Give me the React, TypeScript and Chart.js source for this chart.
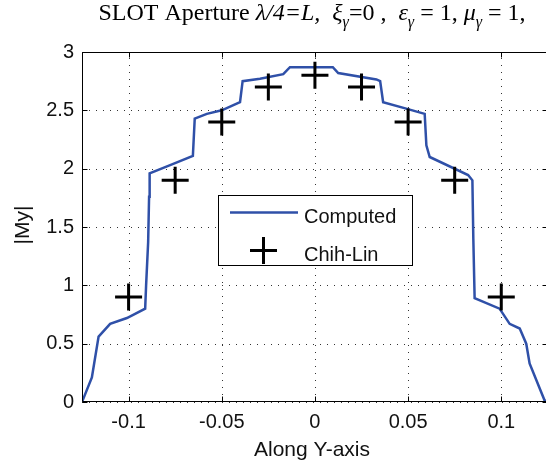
import React, { useEffect, useRef } from "react";
import { Chart, registerables } from "chart.js";

Chart.register(...registerables);

// ---- data ----
const computedX = [
  -0.125, -0.1197, -0.1161, -0.1099, -0.1009, -0.0911, -0.0906, -0.0895, -0.089, -0.0887,
  -0.0777, -0.0655, -0.0645, -0.058, -0.05, -0.0402, -0.0388, -0.0295, -0.017, -0.0134,
  0.0096, 0.0125, 0.033, 0.035, 0.0366, 0.049, 0.0589, 0.0598, 0.0616, 0.0822,
  0.0845, 0.085, 0.0857, 0.0991, 0.1045, 0.1099, 0.1134, 0.1152, 0.1232, 0.125,
];
const computedY = [
  0, 0.21, 0.56, 0.67, 0.72, 0.8, 1.0, 1.37, 1.76, 1.96,
  2.03, 2.11, 2.43, 2.47, 2.5, 2.57, 2.75, 2.77, 2.81, 2.87,
  2.87, 2.82, 2.765, 2.75, 2.57, 2.515, 2.47, 2.2, 2.1, 1.945,
  1.9, 1.4, 0.89, 0.8, 0.67, 0.63, 0.5, 0.33, 0.015, 0,
];
const chihLinX = [-0.1, -0.075, -0.05, -0.025, 0, 0.025, 0.05, 0.075, 0.1];
const chihLinY = [0.9, 1.9, 2.4, 2.7, 2.8, 2.7, 2.4, 1.9, 0.9];

const xTicks = [-0.1, -0.05, 0, 0.05, 0.1];
const xTickLabels = ["-0.1", "-0.05", "0", "0.05", "0.1"];
const yTicks = [0, 0.5, 1, 1.5, 2, 2.5, 3];
const yTickLabels = ["0", "0.5", "1", "1.5", "2", "2.5", "3"];
const seriesNames = ["Computed", "Chih-Lin"];
const xTitle = "Along Y-axis";
const yTitle = "|My|";
const titleSegments = [
  { t: "SLOT Aperture ", it: false, sub: false },
  { t: "λ/4=L,", it: true, sub: false },
  { t: "  ", it: false, sub: false },
  { t: "ξ", it: true, sub: false },
  { t: "γ", it: true, sub: true },
  { t: "=0 ,  ", it: false, sub: false },
  { t: "ε", it: true, sub: false },
  { t: "γ", it: true, sub: true },
  { t: " = 1, ", it: false, sub: false },
  { t: "μ", it: true, sub: false },
  { t: "γ", it: true, sub: true },
  { t: " = 1,", it: false, sub: false },
];

const BLUE = "#2f50a8";
const SANS = '"Liberation Sans", Arial, sans-serif';
const SERIF = '"Liberation Serif", "Times New Roman", serif';

const decoPlugin = {
  id: "deco",
  beforeDraw(chart: any) {
    const ctx = chart.ctx;
    ctx.save();
    ctx.fillStyle = "#fff";
    ctx.fillRect(0, 0, chart.width, chart.height);
    ctx.restore();
  },
  beforeDatasetsDraw(chart: any) {
    const { ctx, chartArea: a, scales } = chart;
    const xs = scales.x;
    const ys = scales.y;
    ctx.save();
    ctx.strokeStyle = "#333";
    ctx.lineWidth = 1;
    ctx.setLineDash([1, 6]);
    ctx.beginPath();
    for (const v of xTicks) {
      const px = Math.round(xs.getPixelForValue(v)) + 0.5;
      ctx.moveTo(px, a.bottom);
      ctx.lineTo(px, a.top);
    }
    for (const v of yTicks) {
      const py = Math.round(ys.getPixelForValue(v)) + 0.5;
      ctx.moveTo(a.left, py);
      ctx.lineTo(a.right, py);
    }
    ctx.stroke();
    ctx.restore();
  },
  afterDraw(chart: any) {
    const { ctx, chartArea: a, scales } = chart;
    const xs = scales.x;
    const ys = scales.y;
    ctx.save();
    ctx.strokeStyle = "#000";
    ctx.lineWidth = 1;
    ctx.setLineDash([]);
    const L = Math.round(a.left) + 0.5;
    const T = Math.round(a.top) + 0.5;
    const B = Math.round(a.bottom) - 0.5;
    const R = Math.round(a.right) + 1.5;
    ctx.beginPath();
    ctx.moveTo(R, B);
    ctx.lineTo(L, B);
    ctx.lineTo(L, T);
    ctx.lineTo(R, T);
    ctx.stroke();
    // inward ticks
    ctx.beginPath();
    for (const v of xTicks) {
      const px = Math.round(xs.getPixelForValue(v)) + 0.5;
      ctx.moveTo(px, B);
      ctx.lineTo(px, B - 5);
      ctx.moveTo(px, T);
      ctx.lineTo(px, T + 5);
    }
    for (const v of yTicks) {
      const py = Math.round(ys.getPixelForValue(v)) + 0.5;
      ctx.moveTo(L, py);
      ctx.lineTo(L + 5, py);
      ctx.moveTo(R, py);
      ctx.lineTo(R - 5, py);
    }
    ctx.stroke();

    // legend
    ctx.fillStyle = "#fff";
    ctx.fillRect(218, 195, 194, 70);
    ctx.strokeRect(218.5, 195.5, 194, 70);
    ctx.strokeStyle = BLUE;
    ctx.lineWidth = 2.5;
    ctx.beginPath();
    ctx.moveTo(230, 212.5);
    ctx.lineTo(298, 212.5);
    ctx.stroke();
    ctx.strokeStyle = "#000";
    ctx.lineWidth = 3;
    ctx.beginPath();
    ctx.moveTo(250, 250.5);
    ctx.lineTo(277, 250.5);
    ctx.moveTo(263.5, 237);
    ctx.lineTo(263.5, 264);
    ctx.stroke();
    ctx.fillStyle = "#111";
    ctx.font = `20px ${SANS}`;
    ctx.textAlign = "left";
    ctx.textBaseline = "alphabetic";
    ctx.fillText(seriesNames[0], 304, 223);
    ctx.fillText(seriesNames[1], 304, 261);

    // axis titles
    ctx.font = `21px ${SANS}`;
    ctx.textAlign = "center";
    ctx.fillText(xTitle, 312, 456);
    ctx.save();
    ctx.translate(28.5, 225);
    ctx.rotate(-Math.PI / 2);
    ctx.fillText(yTitle, 0, 0);
    ctx.restore();

    // title
    const fontFor = (s: any) =>
      `${s.it ? "italic " : ""}${s.sub ? 16 : 24}px ${SERIF}`;
    let total = 0;
    for (const s of titleSegments) {
      ctx.font = fontFor(s);
      total += ctx.measureText(s.t).width;
    }
    let cx = 312 - total / 2;
    ctx.textAlign = "left";
    ctx.fillStyle = "#000";
    for (const s of titleSegments) {
      ctx.font = fontFor(s);
      ctx.fillText(s.t, cx, s.sub ? 27 : 20);
      cx += ctx.measureText(s.t).width;
    }
    ctx.restore();
  },
};

export default function App() {
  const ref = useRef<HTMLCanvasElement | null>(null);
  useEffect(() => {
    if (!ref.current) return;
    const chart = new Chart(ref.current, {
      type: "scatter",
      data: {
        datasets: [
          {
            label: seriesNames[1],
            data: chihLinX.map((x, i) => ({ x, y: chihLinY[i] })),
            pointStyle: "cross",
            pointRadius: 13.5,
            pointHoverRadius: 13.5,
            borderColor: "#000",
            backgroundColor: "#000",
            borderWidth: 3,
            showLine: false,
            order: 0,
            clip: false as any,
          },
          {
            label: seriesNames[0],
            data: computedX.map((x, i) => ({ x, y: computedY[i] })),
            showLine: true,
            borderColor: BLUE,
            backgroundColor: BLUE,
            borderWidth: 2.5,
            pointRadius: 0,
            tension: 0,
            order: 1,
          },
        ],
      },
      options: {
        responsive: false,
        animation: false,
        devicePixelRatio: 1,
        layout: { autoPadding: false, padding: { left: 0, top: 52, right: 0, bottom: 0 } },
        plugins: {
          legend: { display: false },
          tooltip: { enabled: false },
          title: { display: false },
        },
        scales: {
          x: {
            type: "linear",
            min: -0.125,
            max: 0.124,
            afterBuildTicks: (s: any) => {
              s.ticks = xTicks.map((v) => ({ value: v }));
            },
            afterFit: (s: any) => {
              s.height = 63;
              s.paddingLeft = 0;
              s.paddingRight = 0;
            },
            ticks: {
              autoSkip: false,
              maxRotation: 0,
              padding: 8,
              color: "#111",
              font: { family: SANS, size: 20 },
              callback: (v: any) => xTickLabels[xTicks.indexOf(Number(v))] ?? "",
            },
            grid: { display: false, drawTicks: false },
            border: { display: false },
          },
          y: {
            type: "linear",
            min: 0,
            max: 3,
            afterBuildTicks: (s: any) => {
              s.ticks = yTicks.map((v) => ({ value: v }));
            },
            afterFit: (s: any) => {
              s.width = 82;
              s.paddingTop = 0;
              s.paddingBottom = 0;
            },
            ticks: {
              autoSkip: false,
              padding: 8,
              color: "#111",
              font: { family: SANS, size: 20 },
              callback: (v: any) => yTickLabels[yTicks.indexOf(Number(v))] ?? "",
            },
            grid: { display: false, drawTicks: false },
            border: { display: false },
          },
        },
      },
      plugins: [decoPlugin],
    });
    return () => chart.destroy();
  }, []);
  return (
    <div style={{ position: "absolute", left: 0, top: 0, width: 546, height: 465 }}>
      <canvas ref={ref} width={546} height={465} style={{ display: "block", width: 546, height: 465 }} />
    </div>
  );
}
